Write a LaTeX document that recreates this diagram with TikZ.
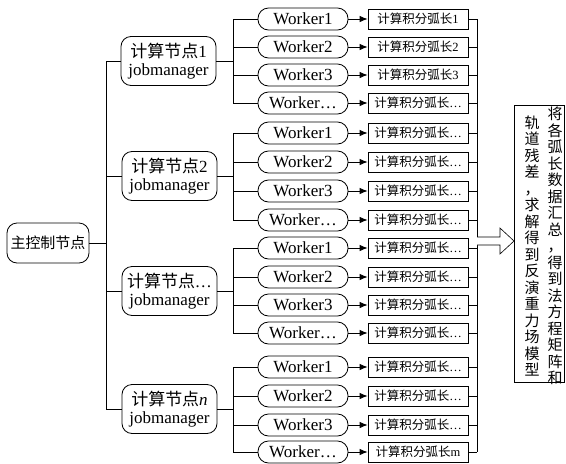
\documentclass[tikz,border=0pt]{standalone}
\usepackage{fontspec}
\setmainfont{Liberation Serif}
\newfontfamily\cjk{Noto Sans CJK SC}
\usetikzlibrary{arrows.meta,shadows}
\begin{document}
\begin{tikzpicture}[x=1pt,y=-1pt,
  line width=0.8pt,
  mainbox/.style={draw,rounded corners=10pt,minimum width=82pt,minimum height=40pt,inner sep=1pt,font=\cjk\fontsize{15}{16}\selectfont},
  compbox/.style={draw,rounded corners=10pt,minimum width=95pt,minimum height=49pt,inner sep=1pt,align=center,font=\fontsize{17}{17.5}\selectfont},
  workerbox/.style={draw,rounded corners=10.5pt,minimum width=90pt,minimum height=22pt,inner sep=1pt,font=\fontsize{17}{18}\selectfont},
  arcbox/.style={draw,fill=white,minimum width=100pt,minimum height=20pt,inner sep=1pt,font=\fontsize{12.5}{13}\selectfont,
     drop shadow={shadow xshift=1pt,shadow yshift=-1pt,fill=black,opacity=0.8}},
  link/.style={line width=0.8pt},
  arr/.style={-{Latex[length=8pt,width=6.5pt]},line width=0.8pt},
  vcol/.style={align=center,inner sep=0pt,font=\cjk\fontsize{15}{16.5}\selectfont}
]
\useasboundingbox (0,0) rectangle (566,464);

% main node
\node[mainbox] (m) at (48,243) {主控制节点};

% compute nodes
\node[compbox] (c1) at (168.5,61) {{\cjk 计算节点}1\\jobmanager};
\node[compbox] (c2) at (169.5,176) {{\cjk 计算节点}2\\jobmanager};
\node[compbox] (c3) at (169.5,291) {{\cjk 计算节点}…\\jobmanager};
\node[compbox] (c4) at (169.5,409) {{\cjk 计算节点}\textit{n}\\jobmanager};

% trunk
\coordinate (t0) at (106,243);
\coordinate (t1) at (106,61);
\coordinate (t4) at (106,409);
\draw[link] (m.east) -- (t0);
\draw[link] (t1) -- (t4);
\foreach \i in {1,...,4}{
  \draw[link] (c\i.west) -- (t1 |- c\i.west);
}

% workers and boxes
\def\rowsA{19,47,75,103}
\def\rowsB{133,162,191,220}
\def\rowsC{248,277,305,333}
\def\rowsD{367,396,425,452}

\newcommand{\mkgroup}[5]{%
  % #1 group id, #2 compute node, #3 rows list, #4 label of 4th box,#5 labels list
  \foreach \y [count=\k] in #3 {
    \ifnum\k=4 \def\wl{Worker…}\else \def\wl{Worker\k}\fi
    \node[workerbox] (w#1\k) at (303,\y) {\wl};
    \coordinate (h#1\k) at (233,\y);
    \draw[link] (h#1\k) -- (w#1\k.west);
  }
  \draw[link] (#2.east) -- (233,0 |- #2.east);
  \draw[link] (h#11) -- (h#14);
}
\mkgroup{a}{c1}{\rowsA}{}{}
\mkgroup{b}{c2}{\rowsB}{}{}
\mkgroup{c}{c3}{\rowsC}{}{}
\mkgroup{d}{c4}{\rowsD}{}{}

% arc boxes
\newcommand{\arcnode}[3]{%
  \node[arcbox] (b#1) at (418,0 |- w#1.center) {#2};
  \draw[arr] (w#1.east) -- (b#1.west);
  \draw[link] (b#1.east) -- (477,0 |- b#1.east);
}
\arcnode{a1}{{\cjk 计算积分弧长}1}{}
\arcnode{a2}{{\cjk 计算积分弧长}2}{}
\arcnode{a3}{{\cjk 计算积分弧长}3}{}
\arcnode{a4}{{\cjk 计算积分弧长}…}{}
\arcnode{b1}{{\cjk 计算积分弧长}…}{}
\arcnode{b2}{{\cjk 计算积分弧长}…}{}
\arcnode{b3}{{\cjk 计算积分弧长}…}{}
\arcnode{b4}{{\cjk 计算积分弧长}…}{}
\arcnode{c1}{{\cjk 计算积分弧长}…}{}
\arcnode{c2}{{\cjk 计算积分弧长}…}{}
\arcnode{c3}{{\cjk 计算积分弧长}…}{}
\arcnode{c4}{{\cjk 计算积分弧长}…}{}
\arcnode{d1}{{\cjk 计算积分弧长}…}{}
\arcnode{d2}{{\cjk 计算积分弧长}…}{}
\arcnode{d3}{{\cjk 计算积分弧长}…}{}
\arcnode{d4}{{\cjk 计算积分弧长}m}{}

% right bus
\coordinate (r1) at (477,19);
\coordinate (r2) at (477,452);
\draw[link] (r1) -- (r2);

% result box
\node[draw,line width=1pt,minimum width=50pt,minimum height=277pt,inner sep=0pt] (res) at (539.5,243.5) {};
\node[vcol] (col1) at (555,246) {将\\各\\弧\\长\\数\\据\\汇\\总\\，\\得\\到\\法\\方\\程\\矩\\阵\\和};
\node[vcol] (col2) at (532,246) {轨\\道\\残\\差\\，\\求\\解\\得\\到\\反\\演\\重\\力\\场\\模\\型};

% hollow arrow
\draw[line width=0.6pt,fill=white] (477,237) -- (500,237) -- (500,228) -- (res.west |- 0,241) -- (500,254) -- (500,245) -- (477,245);
\end{tikzpicture}
\end{document}
